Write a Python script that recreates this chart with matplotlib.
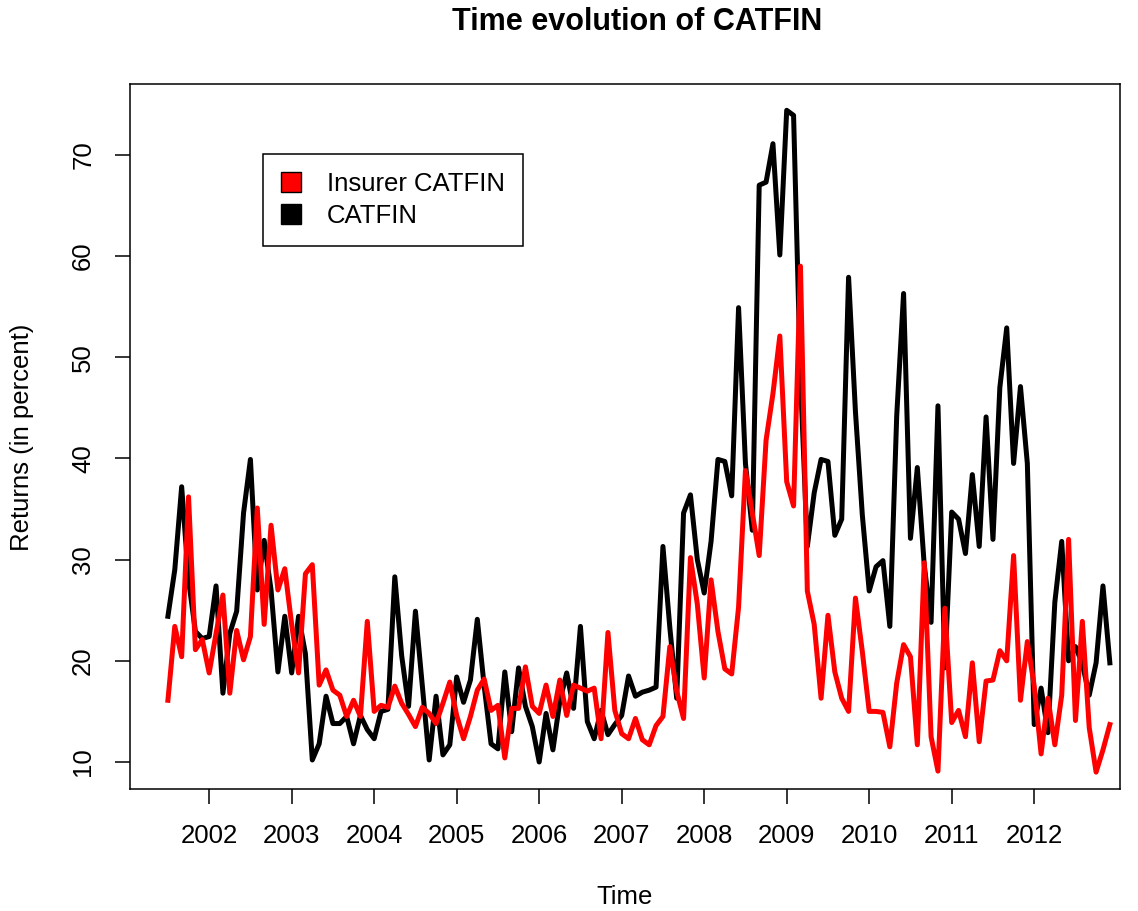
import numpy as np
import matplotlib
matplotlib.use('Agg')
import matplotlib.pyplot as plt
from matplotlib.patches import Patch

plt.rcParams['font.family'] = ['Liberation Sans', 'DejaVu Sans']

# Monthly values, July 2001 - December 2012
start_year = 2001.5
catfin = [
    24.4, 29.0, 37.2, 28.0, 22.9, 22.2, 22.4, 27.4, 16.8, 22.7, 24.9, 34.6,
    39.9, 27.0, 31.9, 27.0, 18.9, 24.4, 18.8, 24.4, 20.7, 10.2, 11.8, 16.5,
    13.8, 13.8, 14.5, 11.8, 14.6, 13.2, 12.3, 15.0, 15.2, 28.3, 20.5, 15.5,
    24.9, 17.5, 10.2, 16.5, 10.7, 11.7, 18.4, 15.9, 18.1, 24.1, 17.5, 11.8,
    11.3, 18.9, 13.0, 19.3, 15.5, 13.5, 10.0, 14.8, 11.2, 16.0, 18.8, 15.3,
    23.4, 14.0, 12.3, 15.1, 12.7, 13.7, 14.6, 18.5, 16.5, 16.9, 17.1, 17.4,
    31.3, 23.3, 16.3, 34.6, 36.4, 30.0, 26.7, 31.8, 39.9, 39.7, 36.3, 54.9,
    39.5, 32.9, 67.0, 67.3, 71.1, 60.1, 74.4, 73.9, 48.0, 31.3, 36.6, 39.9,
    39.7, 32.4, 34.0, 57.9, 44.6, 34.4, 26.9, 29.3, 29.9, 23.4, 44.2, 56.3,
    32.1, 39.1, 29.5, 23.8, 45.2, 19.3, 34.7, 34.0, 30.6, 38.4, 31.3, 44.1,
    32.0, 47.0, 52.9, 39.5, 47.1, 39.5, 13.7, 17.3, 12.9, 25.8, 31.8, 20.0,
    21.4, 19.7, 16.6, 19.8, 27.4, 19.8,
]
insurer = [
    16.1, 23.4, 20.4, 36.2, 21.1, 22.1, 18.8, 22.7, 26.5, 16.8, 23.0, 20.1,
    22.4, 35.1, 23.6, 33.4, 27.0, 29.1, 23.6, 18.8, 28.6, 29.5, 17.6, 19.1,
    17.1, 16.6, 14.5, 16.1, 14.5, 23.9, 15.0, 15.6, 15.4, 17.5, 15.8, 14.7,
    13.5, 15.4, 14.8, 13.8, 15.8, 17.9, 14.6, 12.3, 14.5, 17.1, 18.2, 15.1,
    15.6, 10.4, 15.3, 15.3, 19.4, 15.5, 14.8, 17.6, 14.5, 18.1, 14.6, 17.6,
    17.3, 17.0, 17.3, 12.3, 22.8, 15.1, 12.8, 12.3, 14.3, 12.2, 11.7, 13.6,
    14.5, 21.4, 17.0, 14.3, 30.2, 25.6, 18.3, 28.0, 22.9, 19.2, 18.7, 25.3,
    38.8, 34.6, 30.4, 41.8, 46.4, 52.1, 37.7, 35.3, 59.0, 26.9, 23.6, 16.3,
    24.5, 18.9, 16.3, 15.0, 26.2, 20.9, 15.0, 15.0, 14.9, 11.5, 17.8, 21.6,
    20.4, 11.7, 29.7, 12.5, 9.1, 25.2, 13.9, 15.1, 12.5, 19.8, 12.0, 18.0,
    18.1, 21.0, 20.0, 30.4, 16.1, 21.9, 17.5, 10.8, 16.3, 11.7, 16.6, 32.0,
    14.1, 23.9, 13.4, 9.0, 11.2, 13.7,
]
year_ticks = list(range(2002, 2013))
y_ticks = [10, 20, 30, 40, 50, 60, 70]

t = start_year + np.arange(len(catfin)) / 12.0

fig = plt.figure(figsize=(11.38, 9.11), dpi=100)
ax = fig.add_axes([0.1142, 0.1339, 0.8700, 0.7739])

ax.plot(t, catfin, '-', c='black', lw=3.6, solid_joinstyle='round')
ax.plot(t, insurer, '-', c='#FF0000', lw=3.6, solid_joinstyle='round')

ax.set_xlim(2001.04, 2013.04)
ax.set_ylim(7.33, 77.0)
ax.set_xticks(year_ticks)
ax.set_xticklabels([str(y) for y in year_ticks])
ax.set_yticks(y_ticks)
ax.set_yticklabels([str(v) for v in y_ticks], rotation=90, va='center')
ax.tick_params(axis='both', labelsize=18.5, length=11, width=1.1, direction='out', pad=14)
for s in ax.spines.values():
    s.set_linewidth(1.1)

# Title and axis labels placed like R's base graphics
fig.text(0.5598, 1 - 22/911, 'Time evolution of CATFIN', fontsize=22, fontweight='bold',
         ha='center', va='center')
fig.text(625/1138, 1 - 897/911, 'Time', fontsize=18.5, ha='center', va='center')
fig.text(22/1138, 1 - 437/911, 'Returns (in percent)', fontsize=18.5, rotation=90,
         ha='center', va='center')

handles = [Patch(facecolor='#FF0000', edgecolor='black', lw=1),
           Patch(facecolor='black', edgecolor='black', lw=1)]
leg = ax.legend(handles, ['Insurer CATFIN', 'CATFIN'], loc='upper left',
                bbox_to_anchor=(0.1343, 0.9007), fontsize=18.5, fancybox=False,
                edgecolor='black', framealpha=1, handlelength=0.8, handleheight=0.8,
                handletextpad=1.0, borderpad=0.7, labelspacing=0.3, borderaxespad=0)
leg.get_frame().set_linewidth(1.1)

fig.savefig('out.png', dpi=100)
plt.close()
